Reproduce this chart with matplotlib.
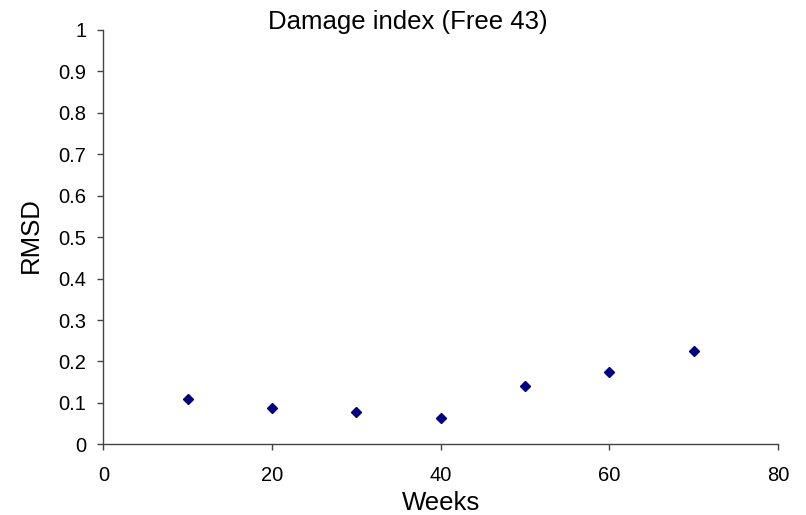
import matplotlib
matplotlib.use("Agg")
from matplotlib import pyplot as plt

weeks = [10, 20, 30, 40, 50, 60, 70]
rmsd = [0.109, 0.089, 0.079, 0.063, 0.142, 0.175, 0.225]

x_ticks = [0, 20, 40, 60, 80]
y_ticks = [0, 0.1, 0.2, 0.3, 0.4, 0.5, 0.6, 0.7, 0.8, 0.9, 1]
y_tick_labels = ["0", "0.1", "0.2", "0.3", "0.4", "0.5", "0.6", "0.7", "0.8", "0.9", "1"]

plt.rcParams['font.family'] = ['Liberation Sans', 'DejaVu Sans']

fig = plt.figure(figsize=(8.06, 5.15), dpi=100)
ax = fig.add_axes([0.1284, 0.1369, 0.8369, 0.8058])

ax.plot(weeks, rmsd, linestyle='none', marker='D', markersize=5.6,
        color='#000080', markeredgecolor='#000080')

ax.set_xlim(0, 80)
ax.set_ylim(0, 1)
ax.set_xticks(x_ticks)
ax.set_yticks(y_ticks)
ax.set_yticklabels(y_tick_labels)
ax.tick_params(direction='out', length=4.5, width=1, color='#444444', labelsize=14.5)
ax.tick_params(axis='y', pad=8)
ax.tick_params(axis='x', pad=11)

for side in ['top', 'right']:
    ax.spines[side].set_visible(False)
for side in ['left', 'bottom']:
    ax.spines[side].set_color('#444444')
    ax.spines[side].set_linewidth(1)

ax.set_xlabel("Weeks", fontsize=18.5)
ax.xaxis.set_label_coords(0.5, -0.157)
ax.xaxis.label.set_va('baseline')

fig.text(31 / 806, 0.5437, "RMSD", rotation=90, ha='center', va='center', fontsize=18.5)
fig.text(0.5056, 0.9437, "Damage index (Free 43)", ha='center', va='baseline', fontsize=18.5)

fig.savefig("out.png", dpi=100)
